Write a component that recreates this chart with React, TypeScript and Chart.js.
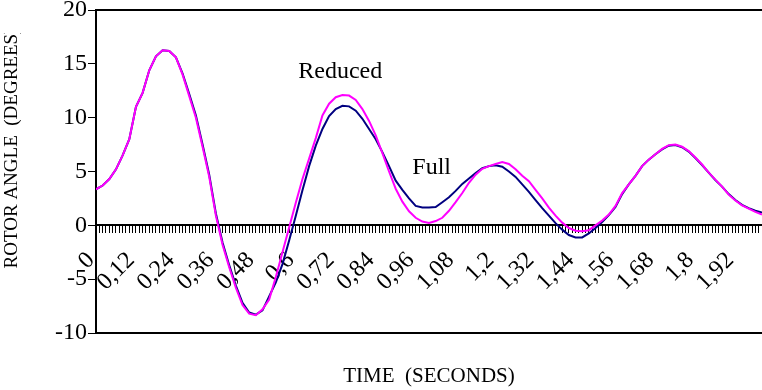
import React, { useEffect, useRef } from 'react';
import { Chart, registerables } from 'chart.js';

Chart.register(...registerables);

const times = [
  0, 0.02, 0.04, 0.06, 0.08, 0.1, 0.12, 0.14, 0.16, 0.18,
  0.2, 0.22, 0.24, 0.26, 0.28, 0.3, 0.32, 0.34, 0.36, 0.38,
  0.4, 0.42, 0.44, 0.46, 0.48, 0.5, 0.52, 0.54, 0.56, 0.58,
  0.6, 0.62, 0.64, 0.66, 0.68, 0.7, 0.72, 0.74, 0.76, 0.78,
  0.8, 0.82, 0.84, 0.86, 0.88, 0.9, 0.92, 0.94, 0.96, 0.98,
  1.0, 1.02, 1.04, 1.06, 1.08, 1.1, 1.12, 1.14, 1.16, 1.18,
  1.2, 1.22, 1.24, 1.26, 1.28, 1.3, 1.32, 1.34, 1.36, 1.38,
  1.4, 1.42, 1.44, 1.46, 1.48, 1.5, 1.52, 1.54, 1.56, 1.58,
  1.6, 1.62, 1.64, 1.66, 1.68, 1.7, 1.72, 1.74, 1.76, 1.78,
  1.8, 1.82, 1.84, 1.86, 1.88, 1.9, 1.92, 1.94, 1.96, 1.98,
  2.0,
];

const fullValues = [
  3.35, 3.7, 4.3, 5.2, 6.5, 8.0, 11.0, 12.3, 14.4, 15.7,
  16.25, 16.2, 15.6, 14.1, 12.2, 10.2, 7.5, 4.7, 1.1, -1.6,
  -3.7, -5.6, -7.2, -8.1, -8.3, -7.9, -6.6, -5.3, -3.6, -1.4,
  0.9, 3.25, 5.5, 7.4, 8.95, 10.15, 10.8, 11.1, 11.05, 10.65,
  9.9, 8.95, 8.0, 6.8, 5.5, 4.15, 3.3, 2.5, 1.8, 1.66,
  1.66, 1.7, 2.15, 2.6, 3.2, 3.85, 4.35, 4.85, 5.3, 5.5,
  5.57, 5.45, 5.0, 4.5, 3.8, 3.1, 2.35, 1.6, 0.9, 0.2,
  -0.4, -0.9, -1.12, -1.12, -0.75, -0.25, 0.3, 0.95, 1.7, 2.9,
  3.8, 4.6, 5.5, 6.1, 6.6, 7.05, 7.4, 7.45, 7.25, 6.85,
  6.25, 5.6, 4.9, 4.2, 3.6, 2.9, 2.35, 1.9, 1.6, 1.35,
  1.2,
];

const reducedValues = [
  3.35, 3.7, 4.3, 5.2, 6.5, 8.0, 11.0, 12.3, 14.4, 15.7,
  16.25, 16.2, 15.6, 14.0, 12.0, 10.0, 7.3, 4.5, 0.9, -1.8,
  -3.9, -5.8, -7.4, -8.2, -8.35, -7.8, -6.9, -4.8, -2.5, -0.2,
  2.1, 4.3, 6.2, 8.1, 10.2, 11.3, 11.9, 12.1, 12.05, 11.65,
  10.8, 9.7, 8.35, 6.7, 5.0, 3.4, 2.2, 1.3, 0.7, 0.35,
  0.23, 0.4, 0.7, 1.35, 2.15, 3.0, 3.95, 4.7, 5.25, 5.5,
  5.7, 5.88, 5.7, 5.2, 4.6, 4.1, 3.3, 2.5, 1.65, 0.9,
  0.25, -0.25, -0.5, -0.55, -0.45, 0.0, 0.45, 1.0, 1.8, 3.0,
  3.8, 4.6, 5.5, 6.1, 6.6, 7.1, 7.45, 7.5, 7.3, 6.9,
  6.3, 5.65, 4.9, 4.25, 3.6, 2.85, 2.3, 1.85, 1.55, 1.25,
  1.0,
];

const xTickLabels = [
  '0', '0,12', '0,24', '0,36', '0,48', '0,6', '0,72', '0,84', '0,96',
  '1,08', '1,2', '1,32', '1,44', '1,56', '1,68', '1,8', '1,92',
];

const annotations = [
  { text: 'Reduced', t: 0.7335, v: 13.72 },
  { text: 'Full', t: 1.008, v: 4.75 },
];

const xTitle = 'TIME  (SECONDS)';
const yTitle = 'ROTOR ANGLE  (DEGREES)';
const SERIF = '"Liberation Serif", "Times New Roman", serif';

const zeroPadding = (s: any) => {
  s.paddingLeft = 0;
  s.paddingRight = 0;
  s.paddingTop = 0;
  s.paddingBottom = 0;
};

const decorPlugin = {
  id: 'decor',
  afterDraw(chart: any) {
    const { ctx, chartArea, scales } = chart;
    ctx.save();
    ctx.strokeStyle = '#000';
    ctx.lineWidth = 2;
    ctx.beginPath();
    ctx.moveTo(chartArea.left, chartArea.top);
    ctx.lineTo(chart.width, chartArea.top);
    ctx.moveTo(chartArea.left, chartArea.bottom);
    ctx.lineTo(chart.width, chartArea.bottom);
    ctx.stroke();

    ctx.fillStyle = '#000';
    ctx.font = '24px ' + SERIF;
    ctx.textAlign = 'center';
    ctx.textBaseline = 'alphabetic';
    annotations.forEach((a) => {
      ctx.fillText(a.text, scales.x.getPixelForValue(a.t), scales.y.getPixelForValue(a.v));
    });

    ctx.font = '21px ' + SERIF;
    ctx.fillText(xTitle, (chartArea.left + chartArea.right) / 2, 382);

    ctx.beginPath();
    ctx.rect(0, 33, 60, 400);
    ctx.clip();
    ctx.translate(12, 148);
    ctx.rotate(-Math.PI / 2);
    ctx.font = '19px ' + SERIF;
    ctx.textBaseline = 'middle';
    ctx.fillText(yTitle, 0, 0);
    ctx.restore();
  },
};

export default function App() {
  const ref = useRef<HTMLCanvasElement | null>(null);

  useEffect(() => {
    document.body.style.margin = '0';
    const canvas = ref.current;
    if (!canvas) return;
    const tickValues = Array.from({ length: 201 }, (_, i) => i / 100);
    const chart = new Chart(canvas, {
      type: 'line',
      data: {
        datasets: [
          {
            label: 'Reduced',
            data: times.map((t, i) => ({ x: t, y: reducedValues[i] })),
            borderColor: '#FF00FF',
            borderWidth: 2,
            pointRadius: 0,
            tension: 0,
            fill: false,
            order: 1,
          },
          {
            label: 'Full',
            data: times.map((t, i) => ({ x: t, y: fullValues[i] })),
            borderColor: '#000080',
            borderWidth: 2,
            pointRadius: 0,
            tension: 0,
            fill: false,
            order: 2,
          },
        ],
      },
      options: {
        animation: false,
        responsive: false,
        devicePixelRatio: 1,
        layout: { autoPadding: false, padding: { left: 0, top: 10, right: 0, bottom: 57 } },
        plugins: { legend: { display: false }, tooltip: { enabled: false } },
        scales: {
          x: {
            type: 'linear',
            position: { y: 0 } as any,
            min: 0,
            max: 2.0,
            afterBuildTicks: (s: any) => {
              s.ticks = tickValues.map((v) => ({ value: v }));
            },
            afterFit: (s: any) => {
              s.height = 0;
              zeroPadding(s);
            },
            grid: { drawOnChartArea: false, drawTicks: true, tickLength: 7, color: '#000', lineWidth: 1 },
            border: { display: true, color: '#000', width: 2 },
            ticks: {
              autoSkip: false,
              minRotation: 45,
              maxRotation: 45,
              padding: 14,
              labelOffset: -5,
              color: '#000',
              font: { family: SERIF, size: 24 },
              callback: (_v: any, index: number) =>
                index % 12 === 0 && xTickLabels[index / 12] !== undefined ? xTickLabels[index / 12] : '',
            },
          },
          y: {
            min: -10,
            max: 20,
            afterFit: (s: any) => {
              s.width = 96;
              zeroPadding(s);
            },
            grid: { drawOnChartArea: false, drawTicks: true, tickLength: 8, color: '#000', lineWidth: 1 },
            border: { display: true, color: '#000', width: 2 },
            ticks: {
              stepSize: 5,
              padding: 1,
              color: '#000',
              font: { family: SERIF, size: 24 },
            },
          },
        },
      },
      plugins: [decorPlugin],
    });
    return () => chart.destroy();
  }, []);

  return (
    <div style={{ width: 762, height: 390 }}>
      <canvas ref={ref} width={762} height={390} />
    </div>
  );
}
